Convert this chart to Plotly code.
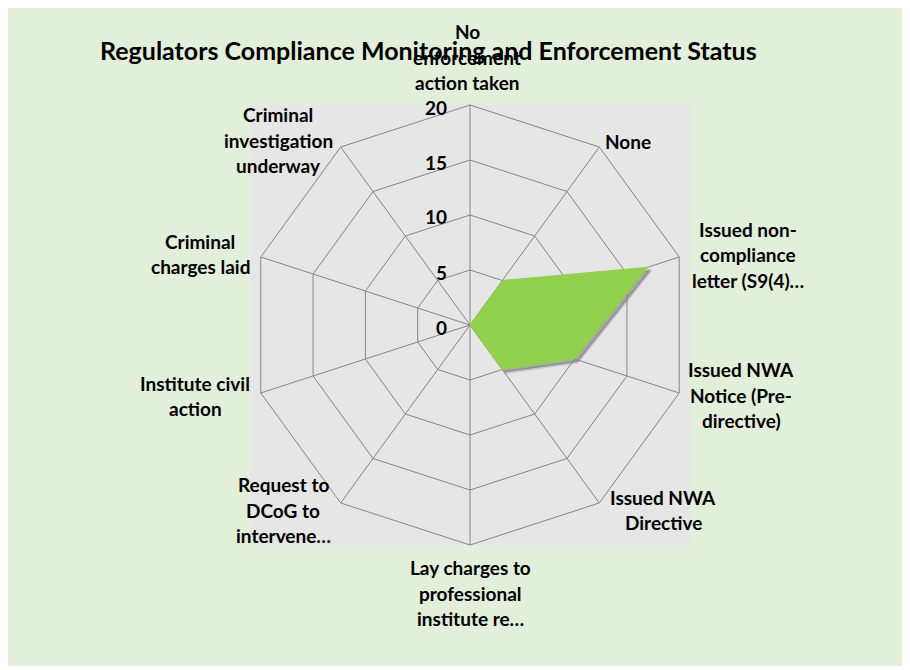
import plotly.graph_objects as go

categories = [
    "No enforcement action taken",
    "None",
    "Issued non-compliance letter (S9(4)…",
    "Issued NWA Notice (Pre-directive)",
    "Issued NWA Directive",
    "Lay charges to professional institute re…",
    "Request to DCoG to intervene…",
    "Institute civil action",
    "Criminal charges laid",
    "Criminal investigation underway",
]
values = [0, 5, 17, 10, 5, 0, 0, 0, 0, 0]
radial_ticks = [0, 5, 10, 15, 20]
title_text = "Regulators Compliance Monitoring and Enforcement Status"

# wrapped label lines (as shown on the chart)
label_lines = [
    ["No", "enforcement", "action taken"],
    ["None"],
    ["Issued non-", "compliance", "letter (S9(4)…"],
    ["Issued NWA", "Notice (Pre-", "directive)"],
    ["Issued NWA", "Directive"],
    ["Lay charges to", "professional", "institute re…"],
    ["Request to", "DCoG to", "intervene…"],
    ["Institute civil", "action"],
    ["Criminal", "charges laid"],
    ["Criminal", "investigation", "underway"],
]
# label block centres in page pixels (layout only)
label_pos = [
    (467, 57), (628, 141), (748, 255), (741, 395), (663, 510),
    (470, 593), (283, 510), (195, 396), (200, 254), (278, 140),
]

W, H = 910, 670
OFF = 8  # page offset of the plot div
FONT = "Lato, 'Open Sans', sans-serif"
LINE = 25.5
CX, CY, R = 470, 325, 220  # polar centre / radius in page pixels
RMAX = 20
SH = 3  # shadow offset in pixels

def px(x):
    return (x - OFF) / W

def py(y):
    return 1 - (y - OFF) / H

cats_closed = categories + [categories[0]]
vals_closed = values + [values[0]]

fig = go.Figure()
# soft drop shadow (same data, drawn on a slightly shifted polar subplot)
fig.add_trace(go.Scatterpolar(
    r=vals_closed, theta=cats_closed, fill="toself", subplot="polar",
    fillcolor="rgba(0,0,0,0.28)", line=dict(color="rgba(0,0,0,0.12)", width=3),
    mode="lines", hoverinfo="skip", showlegend=False,
))
fig.add_trace(go.Scatterpolar(
    r=vals_closed, theta=cats_closed, fill="toself", subplot="polar2",
    fillcolor="#92D050", line=dict(color="#92D050", width=1),
    mode="lines", hoverinfo="skip", showlegend=False,
))

shapes = [
    dict(type="rect", xref="paper", yref="paper", x0=px(5), x1=px(905), y0=py(666), y1=py(7),
         fillcolor="#E2EFDA", line=dict(width=0), layer="below"),
    dict(type="rect", xref="paper", yref="paper", x0=px(CX - R), x1=px(CX + R),
         y0=py(CY + R), y1=py(CY - R),
         fillcolor="#E7E6E6", line=dict(width=0), layer="below"),
]

annotations = []
for lines, (cx, cy) in zip(label_lines, label_pos):
    n = len(lines)
    for k, t in enumerate(lines):
        yy = cy + (k - (n - 1) / 2) * LINE
        annotations.append(dict(
            text="<b>%s</b>" % t, x=px(cx), y=py(yy), xref="paper", yref="paper",
            showarrow=False, xanchor="center", yanchor="middle",
            font=dict(family=FONT, size=19, color="#000000"),
        ))
# radial tick labels, horizontal, left of the vertical spoke
for v in radial_ticks:
    annotations.append(dict(
        text="<b>%d</b>" % v, x=px(CX - 21), y=py(CY - v * R / RMAX + 2),
        xref="paper", yref="paper", showarrow=False,
        xanchor="right", yanchor="middle",
        font=dict(family=FONT, size=19, color="#000000"),
    ))
annotations.append(dict(
    text="<b>%s</b>" % title_text, x=px(428), y=py(50), xref="paper", yref="paper",
    showarrow=False, xanchor="center", yanchor="middle",
    font=dict(family=FONT, size=25, color="#000000"),
))

hidden_radial = dict(range=[0, RMAX], showticklabels=False, showline=False, ticks="",
                     showgrid=False)
hidden_angular = dict(direction="clockwise", rotation=90, showticklabels=False, ticks="",
                      showgrid=False, showline=False)

fig.update_layout(
    width=W, height=H,
    margin=dict(l=0, r=0, t=0, b=0),
    paper_bgcolor="#FFFFFF",
    shapes=shapes,
    annotations=annotations,
    polar=dict(
        domain=dict(x=[px(CX - R + SH), px(CX + R + SH)], y=[py(CY + R + SH), py(CY - R + SH)]),
        bgcolor="rgba(0,0,0,0)",
        gridshape="linear",
        radialaxis=hidden_radial,
        angularaxis=hidden_angular,
    ),
    polar2=dict(
        domain=dict(x=[px(CX - R), px(CX + R)], y=[py(CY + R), py(CY - R)]),
        bgcolor="rgba(0,0,0,0)",
        gridshape="linear",
        radialaxis=dict(
            range=[0, RMAX], tickvals=radial_ticks, angle=90,
            showticklabels=False, showline=False, ticks="",
            gridcolor="#868686", gridwidth=1, layer="above traces",
        ),
        angularaxis=dict(
            direction="clockwise", rotation=90, showticklabels=False, ticks="",
            gridcolor="#868686", gridwidth=1, linecolor="#868686", linewidth=1,
            layer="above traces",
        ),
    ),
)

fig.write_html("out.html")
